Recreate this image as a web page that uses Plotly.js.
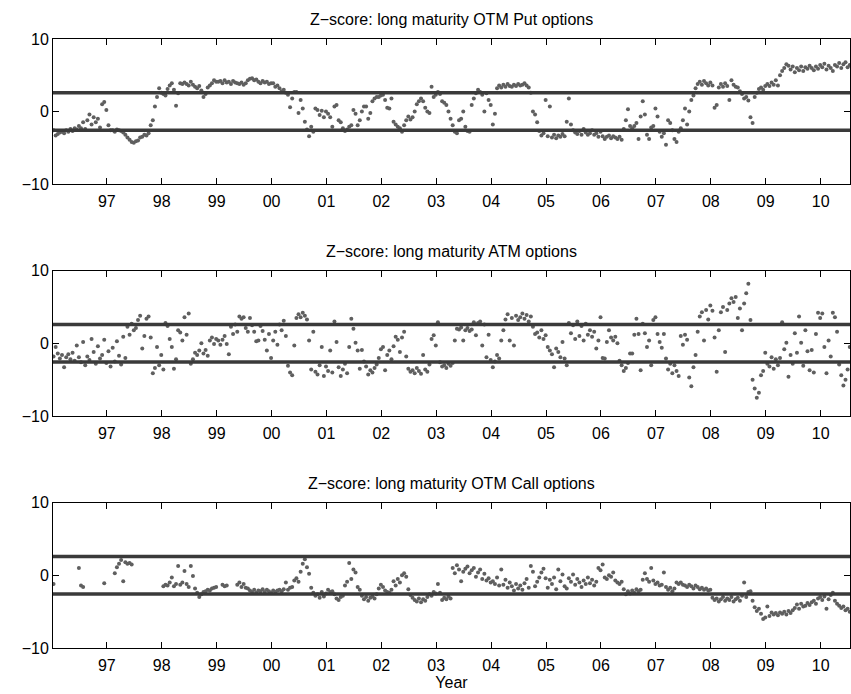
<!DOCTYPE html>
<html><head><meta charset="utf-8">
<script src="https://cdn.plot.ly/plotly-3.0.1.min.js"></script>
<style>html,body{margin:0;padding:0;background:#fff}#chart{width:851px;height:694px}</style>
</head><body><div id="chart"></div>
<script>
const startYear = 1996.03;
const pointsPerYear = 26;
const tickYears = [1997,1998,1999,2000,2001,2002,2003,2004,2005,2006,2007,2008,2009,2010];
const tickLabels = ['97','98','99','00','01','02','03','04','05','06','07','08','09','10'];
const panelTitles = ['Z\u2212score: long maturity OTM Put options','Z\u2212score: long maturity ATM options','Z\u2212score: long maturity OTM Call options'];
const bandLevels = [2.58, -2.58];
const yTicks = [-10, 0, 10];

const putZ = [
-2.6,-3.3,-3.1,-2.9,-2.8,-3.0,-2.6,-2.8,-2.4,-2.7,-2.3,-2.5,-2.0,-2.3,-1.5,-2.4,-1.2,-0.4,-1.8,-0.8,-1.5,-1.0,-2.2,1.0,1.3,0.2,
-1.9,-2.6,-2.6,-2.8,-2.5,-2.6,-2.7,-2.9,-3.2,-3.6,-3.9,-4.2,-4.3,-4.1,-4.0,-3.6,-3.5,-3.2,-3.3,-3.0,-1.9,-1.2,0.7,2.0,3.2,2.6,
2.4,2.2,3.1,3.6,3.9,3.0,0.8,2.5,3.9,3.8,4.0,3.8,3.6,4.1,3.7,3.4,3.2,3.5,2.9,2.0,2.4,3.3,3.6,3.9,4.3,4.1,
4.1,4.2,3.9,4.3,4.0,4.1,3.8,4.2,4.0,3.9,3.8,4.0,3.7,3.9,4.3,4.5,4.6,4.3,4.4,4.1,3.9,4.2,4.0,4.1,3.8,3.9,
3.9,3.4,3.6,3.2,2.8,3.0,2.6,2.3,0.6,1.8,2.7,2.7,-0.2,1.6,0.4,-1.4,-2.5,-3.4,-2.1,-2.8,0.4,0.2,-0.5,0.1,-0.8,0.0,
-0.3,-0.8,-2.1,0.7,0.9,-1.2,-1.5,-2.3,-2.7,-2.5,-2.1,-1.9,0.2,-0.3,-1.9,-1.2,0.0,0.7,0.7,-1.0,-0.2,1.4,1.8,2.0,2.0,2.2,
2.3,1.6,0.5,0.4,1.8,-1.4,-1.8,-2.1,-2.3,-2.8,-1.9,-1.2,-0.7,-1.1,-0.8,0.0,1.0,1.4,1.8,1.4,0.5,0.0,-0.2,3.4,2.0,2.3,
2.7,2.4,1.4,1.2,0.9,0.0,-1.0,-1.9,-2.8,-3.0,-1.2,-1.0,0.0,-2.1,-2.7,-2.8,0.9,1.8,2.5,3.0,2.7,2.3,0.0,2.5,1.6,0.9,
-1.8,-0.3,3.2,3.6,3.3,3.7,3.4,3.8,3.5,3.4,3.7,3.5,3.8,3.6,3.7,3.9,3.6,3.3,2.6,0.0,-0.4,-1.5,-2.7,-3.3,-3.0,1.6,
-3.4,0.7,-3.6,-3.2,-3.7,-3.3,-3.5,-3.1,-3.4,-1.4,1.8,-1.8,-2.6,-2.9,-3.1,-2.7,-3.2,-2.4,-2.9,-3.2,-3.0,-2.6,-3.2,-3.0,-3.5,-2.8,
-3.4,-3.8,-3.5,-3.3,-3.7,-3.4,-3.6,-3.8,-3.5,-3.9,-2.4,-1.2,0.3,-2.0,-2.3,-2.0,-1.6,-3.8,-0.7,1.4,-0.4,-3.2,-3.8,-2.2,-2.0,0.4,
-0.7,-2.8,-3.5,-3.0,-4.6,-1.2,-1.6,-2.6,-3.8,-4.2,-2.8,-2.3,-1.2,0.4,-1.8,0.0,1.6,2.2,3.2,3.8,4.1,3.7,4.2,3.9,3.6,4.0,
3.6,0.5,0.9,3.3,3.8,3.4,3.9,3.5,1.6,4.3,3.7,3.4,3.3,2.8,2.4,1.8,2.0,1.5,-0.8,-1.6,2.0,2.6,3.1,3.3,3.0,3.5,
3.8,3.5,4.0,3.7,4.3,3.6,5.0,5.6,6.0,6.5,6.3,5.8,6.2,5.4,6.0,5.7,6.2,5.6,6.1,5.9,6.3,6.0,5.7,6.2,5.9,6.4,
6.1,6.6,5.8,6.3,6.0,5.6,6.4,6.2,6.7,6.0,6.5,6.8,6.1,6.4
];

const atmZ = [
-1.8,-0.5,-1.4,-2.1,-1.6,-3.3,-1.9,-1.5,-2.2,-1.3,-2.4,-0.3,-1.9,-2.6,0.2,-3.0,-1.8,-2.3,0.6,-1.2,-2.8,-0.4,-2.1,-1.6,0.5,-2.7,
-1.1,-3.2,-0.6,-2.5,0.3,-1.7,-2.9,0.9,-2.0,2.3,1.2,2.7,1.8,2.1,3.2,3.8,-0.7,1.0,3.4,3.7,0.8,-4.1,-3.4,-0.5,-3.0,-1.6,
-3.6,2.8,2.4,0.6,-0.5,-3.5,-2.2,1.8,1.5,0.4,3.6,1.2,4.1,-2.8,-2.2,-1.3,-1.6,-1.0,0.0,-1.4,-0.9,-1.7,0.4,0.8,-0.1,0.6,
0.4,-0.2,0.5,1.0,-0.1,-1.5,2.3,1.3,2.6,1.6,3.7,3.4,3.6,2.1,1.6,3.5,2.5,1.6,0.3,0.4,2.4,1.7,0.5,-1.0,1.3,-2.0,
0.4,1.6,-0.2,2.6,1.8,3.1,1.0,-3.1,-4.0,-4.4,-0.3,3.5,4.0,3.6,4.2,3.8,3.3,0.4,-3.6,1.6,-3.9,-4.3,-3.0,-0.5,-4.5,-3.2,
-3.8,-1.0,-4.0,3.0,0.2,-3.3,-4.5,-3.6,-2.8,-4.1,-0.5,3.4,2.0,0.1,-1.0,-3.5,-0.9,-2.5,-3.2,-4.3,-3.7,-4.0,-3.4,-2.9,-2.0,-0.8,
-0.5,-3.7,-1.6,-1.0,-2.2,-0.4,0.9,0.5,-1.2,0.8,1.6,-1.8,-3.5,-3.9,-3.7,-4.1,-3.4,-3.8,-4.2,-1.6,-3.6,-3.9,-2.9,0.6,1.1,-0.3,
2.9,-2.6,-3.2,-3.0,-3.4,-2.8,-3.1,-2.7,0.4,2.0,1.9,2.2,0.4,1.8,2.1,1.7,1.9,2.9,1.1,2.8,3.0,-0.3,2.6,-1.9,1.2,-2.3,
-3.3,-2.5,-1.6,-2.1,0.4,1.8,3.3,4.0,0.4,3.5,-0.3,3.8,3.2,3.6,4.1,3.4,3.9,3.0,3.7,2.3,1.3,1.5,0.8,1.8,0.6,1.1,
-0.5,-1.0,-1.5,-3.3,-0.7,-1.2,-1.9,0.2,-2.1,-3.0,2.8,1.4,2.5,0.6,3.0,1.0,2.4,0.4,2.7,1.2,1.8,0.9,1.6,-0.7,0.4,3.6,
-2.0,-2.1,0.2,1.8,0.8,0.4,0.9,0.0,-2.4,-3.0,-3.8,-3.4,-2.7,-1.4,-1.4,1.2,3.4,1.3,-3.7,2.7,1.4,-0.5,0.4,-3.0,3.2,3.6,
1.3,0.2,-0.6,1.3,-2.1,-3.6,-2.8,-4.1,-3.0,-3.8,-4.5,1.0,-0.2,1.2,0.5,-4.7,-5.9,-3.3,-1.6,1.6,3.7,4.3,0.4,4.6,3.3,5.2,
4.5,0.8,-3.9,1.8,4.3,5.0,-1.2,4.6,5.5,6.2,5.7,6.4,3.5,4.8,1.8,5.5,6.9,8.2,3.2,-5.0,-6.2,-7.5,-6.8,-4.4,-3.8,-1.3,
-2.8,-3.2,-1.9,-3.5,-2.2,-3.0,-2.0,2.9,-0.8,0.1,-4.6,-1.6,-2.8,1.4,-1.3,3.7,0.1,-3.1,1.8,-1.1,-3.7,-0.9,-4.0,1.3,4.2,3.5,
4.1,-0.5,-4.1,0.4,-1.8,4.2,3.6,1.6,-2.9,-4.4,-5.8,-5.0,-3.6,-0.5
];

const callZ = [
-1.2,null,null,null,null,null,null,null,null,null,null,null,1.0,-1.4,-1.6,null,null,null,null,null,null,null,null,null,-1.1,null,
null,null,null,0.3,1.1,1.6,2.1,-0.8,1.8,1.6,1.7,1.5,null,null,null,null,null,null,null,null,null,null,null,null,null,null,
-1.5,-1.3,-1.4,-1.0,-0.3,-1.5,-1.2,1.3,-1.3,-1.0,0.6,-1.2,-1.6,1.3,-0.1,-1.8,-2.4,-3.0,-2.6,-2.3,-2.2,-2.0,-2.1,-1.8,-1.7,-1.6,
null,null,-1.3,-1.5,-1.4,null,null,null,null,-1.3,-1.0,-1.6,-1.2,-1.7,-1.8,-2.1,-2.3,-2.0,-2.4,-2.1,-2.2,-1.9,-2.3,-2.0,-2.2,-2.4,
-2.1,-2.3,-2.1,-2.0,-2.2,-1.9,-1.0,-2.0,-1.7,-1.6,-0.7,-0.4,-0.9,0.5,1.6,2.2,1.1,0.2,-1.7,-2.4,-2.8,-2.6,-3.1,-2.3,-2.9,-2.5,
-2.0,-2.3,-2.2,-2.6,-3.2,-3.4,-3.0,-2.8,-1.4,-0.9,1.7,-0.5,0.8,0.4,-1.6,-2.0,-2.8,-3.3,-3.0,-3.5,-3.1,-2.9,-3.2,-2.6,-1.8,-1.3,
-1.6,-2.1,-2.3,-2.4,-2.0,-0.8,-1.4,-0.5,-1.0,0.0,0.3,-0.2,-1.9,-2.7,-3.1,-3.4,-3.6,-3.2,-3.7,-3.3,-3.5,-3.0,-2.6,-2.8,-2.3,-2.5,
-1.2,-2.4,-3.4,-3.1,-3.3,-2.9,-3.2,1.0,0.3,1.4,0.8,-0.8,0.5,0.9,1.2,0.3,0.7,1.0,-0.2,0.4,0.8,-0.5,0.2,-0.7,-0.4,-1.0,
-0.8,-1.2,-0.3,-1.4,0.8,-1.3,-0.6,-1.7,-1.0,-1.5,-2.1,-1.2,-1.8,-1.4,-2.0,-1.1,-0.5,-1.7,1.3,0.5,-1.5,-0.9,-0.3,0.4,0.9,-0.4,
-1.7,-0.6,-1.2,-0.3,-1.9,0.8,-0.8,0.1,-1.5,-1.8,-0.4,-0.9,0.1,-1.3,-0.5,-1.0,-1.6,-0.7,-1.2,-0.3,-1.1,-0.6,-1.4,-0.9,1.0,0.7,
1.5,-0.3,-0.5,0.0,-0.2,0.4,-0.7,-1.0,-1.2,-0.9,-1.9,-2.6,-2.2,-2.5,-2.1,-2.4,-1.9,-2.2,-2.0,-0.6,0.3,-0.5,-0.9,1.0,-0.7,-1.2,
-1.0,-1.4,-1.3,0.4,-1.6,-2.0,-1.7,-2.2,-1.8,-1.0,-1.2,-1.0,-1.3,-1.4,-1.6,-1.3,-1.5,-1.8,-1.4,-1.6,-1.9,-1.7,-2.0,-1.8,-2.1,-2.0,
-3.1,-3.4,-3.2,-3.6,-3.3,-3.0,-3.5,-3.2,-3.4,-3.0,-3.6,-3.3,-3.1,-3.5,-2.8,-1.0,-3.0,-2.3,-2.2,-3.5,-4.4,-4.9,-4.6,-5.3,-6.0,-5.8,
-4.3,-5.6,-5.1,-5.4,-5.2,-5.5,-5.1,-5.3,-5.0,-5.4,-4.9,-5.2,-4.8,-4.5,-4.0,-4.6,-3.9,-4.3,-4.2,-3.8,-4.1,-3.7,-3.5,-3.9,-3.2,-3.0,
-3.4,-2.9,-4.6,-3.3,-2.7,-2.4,-3.5,-3.9,-4.2,-4.5,-4.3,-4.8,-4.6,-5.0
];

const xRange = [1996.02, 2010.535];
function dates(n){ const d=[]; for(let i=0;i<n;i++) d.push(startYear + i/pointsPerYear); return d; }

const FONT = 'Liberation Sans, Arial, sans-serif';
const series = [putZ, atmZ, callZ];
const axisIds = ['', '2', '3'];
const yDomains = [[0.7349,0.9438],[0.4006,0.6099],[0.0663,0.2757]];
const titleY = [1-20/694, 1-251.5/694, 1-483.5/694];

const traces = [];
const layout = {
  width: 851, height: 694,
  margin: {l:53, r:1, t:0, b:0},
  paper_bgcolor: '#fff', plot_bgcolor: '#fff',
  showlegend: false,
  font: {family: FONT, size: 16, color: '#000'},
  annotations: []
};

series.forEach((vals, k) => {
  const id = axisIds[k];
  traces.push({
    type: 'scatter', mode: 'markers',
    x: dates(vals.length), y: vals,
    xaxis: 'x' + id, yaxis: 'y' + id,
    marker: {size: 4, color: '#5f5f5f'},
    hoverinfo: 'skip'
  });
  bandLevels.forEach(lv => {
    traces.push({
      type: 'scatter', mode: 'lines',
      x: xRange, y: [lv, lv],
      xaxis: 'x' + id, yaxis: 'y' + id,
      line: {color: '#3a3a3a', width: 3.5},
      hoverinfo: 'skip'
    });
  });
  const common = {
    showline: true, linecolor: '#000', linewidth: 1, mirror: 'ticks',
    ticks: 'inside', ticklen: 6, tickcolor: '#000', tickwidth: 1,
    showgrid: false, zeroline: false, fixedrange: true,
    tickfont: {size: 16, color: '#000', family: FONT}
  };
  layout['xaxis' + id] = Object.assign({}, common, {
    domain: [0, 1], anchor: 'y' + id, range: xRange,
    tickmode: 'array', tickvals: tickYears, ticktext: tickLabels,
    ticklabelstandoff: 3
  });
  layout['yaxis' + id] = Object.assign({}, common, {
    domain: yDomains[k], anchor: 'x' + id, range: [-10, 10],
    tickmode: 'array', tickvals: yTicks
  });
  layout.annotations.push({
    text: panelTitles[k], xref: 'paper', yref: 'paper',
    x: 0.5, y: titleY[k], xanchor: 'center', yanchor: 'middle',
    showarrow: false, font: {size: 16, color: '#000', family: FONT}
  });
});
layout.xaxis3.title = {text: 'Year', font: {size: 16, color: '#000', family: FONT}, standoff: 2};

Plotly.newPlot('chart', traces, layout, {staticPlot: true, displayModeBar: false});
</script>
</body></html>
